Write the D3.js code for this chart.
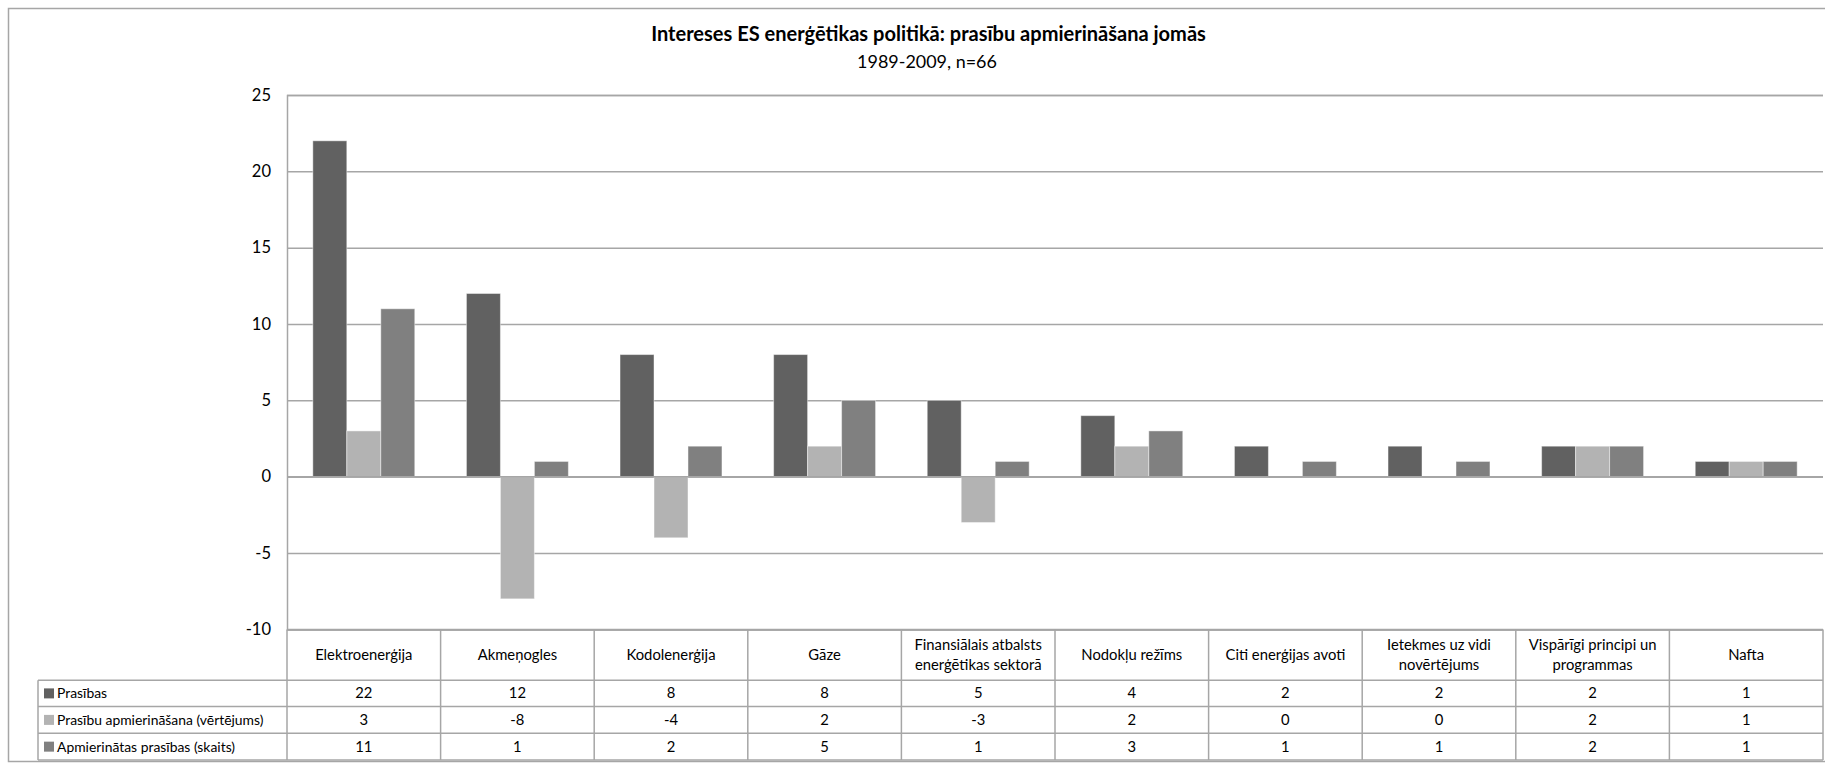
<!DOCTYPE html>
<html><head><meta charset="utf-8">
<script src="https://cdn.jsdelivr.net/npm/d3@7"></script>
<style>
html,body{margin:0;padding:0;background:#fff;}
svg{display:block;font-family:Lato,"Liberation Sans",sans-serif;}
</style></head>
<body>
<svg id="chart" width="1825" height="765"></svg>
<script>
const title = "Intereses ES enerģētikas politikā: prasību apmierināšana jomās";
const subtitle = "1989-2009, n=66";
const categories = ["Elektroenerģija","Akmeņogles","Kodolenerģija","Gāze","Finansiālais atbalsts\nenerģētikas sektorā","Nodokļu režīms","Citi enerģijas avoti","Ietekmes uz vidi\nnovērtējums","Vispārīgi principi un\nprogrammas","Nafta"];
const seriesNames = ["Prasības","Prasību apmierināšana (vērtējums)","Apmierinātas prasības (skaits)"];
const prasibas = [22,12,8,8,5,4,2,2,2,1];
const vertejums = [3,-8,-4,2,-3,2,0,0,2,1];
const skaits = [11,1,2,5,1,3,1,1,2,1];
const yTicks = [-10,-5,0,5,10,15,20,25];
const seriesColors = ["#616161","#b3b3b3","#808080"];
const seriesValues = [prasibas, vertejums, skaits];

const svg = d3.select("#chart");
const gridColor = "#a6a6a6";

svg.append("rect").attr("x",8.5).attr("y",8.5).attr("width",1840).attr("height",753)
  .attr("fill","none").attr("stroke","#a6a6a6").attr("stroke-width",1.5);

const plotL = 287, plotR = 1823, plotT = 95, plotB = 629.4;
const y = d3.scaleLinear().domain([-10,25]).range([plotB, plotT]);
const x0 = d3.scaleBand().domain(categories).range([plotL, plotR]).paddingInner(0).paddingOuter(0);
const x1 = d3.scaleBand().domain(seriesNames).range([0, x0.bandwidth()]).paddingInner(0).paddingOuter(0.76);

function fitText(sel, target){
  const n = sel.node(); const w = n.getComputedTextLength();
  const fs = parseFloat(sel.attr("font-size"));
  if (w > 0) sel.attr("font-size", (fs*target/w).toFixed(2));
}
const t1 = svg.append("text").attr("x",928.5).attr("y",41).attr("text-anchor","middle")
  .attr("font-size",17).attr("font-weight","bold").attr("fill","#000").text(title);
fitText(t1, 555);
const t2 = svg.append("text").attr("x",927).attr("y",68).attr("text-anchor","middle")
  .attr("font-size",16).attr("fill","#000").text(subtitle);
fitText(t2, 140);

const yAxis = d3.axisLeft(y).tickValues(yTicks).tickSize(-(plotR-plotL)).tickFormat(d=>String(d)).tickPadding(16);
const gy = svg.append("g").attr("transform",`translate(${plotL},0)`).call(yAxis);
gy.select(".domain").attr("stroke",gridColor).attr("stroke-width",1.5);
gy.selectAll(".tick line").attr("stroke",gridColor).attr("stroke-width",1.5);
gy.selectAll(".tick text").attr("font-size",16.5).attr("fill","#000").attr("font-family","Lato");

const gCat = svg.append("g").selectAll("g").data(categories).join("g")
  .attr("transform",d=>`translate(${x0(d)},0)`);
gCat.selectAll("rect").data((d,i)=>seriesNames.map((s,k)=>({s,k,v:seriesValues[k][i]})))
  .join("rect")
  .attr("x",d=>x1(d.s)).attr("width",x1.bandwidth())
  .attr("y",d=>y(Math.max(0,d.v))).attr("height",d=>Math.abs(y(d.v)-y(0)))
  .attr("fill",d=>seriesColors[d.k])
  .attr("stroke","#ffffff").attr("stroke-opacity",0.45).attr("stroke-width",1);

svg.append("line").attr("x1",plotL).attr("x2",plotR).attr("y1",y(0)).attr("y2",y(0))
  .attr("stroke",gridColor).attr("stroke-width",1.5);

const tableL = 38;
const rowY = [629.4, 680.3, 706.5, 733.3, 760];
const fsTable = 14.8;
const fsLegend = 13.9;
const tg = svg.append("g");
tg.append("line").attr("x1",plotL).attr("x2",plotR).attr("y1",rowY[0]).attr("y2",rowY[0]).attr("stroke",gridColor).attr("stroke-width",1.5);
for(let r=1;r<rowY.length;r++){
  tg.append("line").attr("x1",tableL).attr("x2",plotR).attr("y1",rowY[r]).attr("y2",rowY[r]).attr("stroke",gridColor).attr("stroke-width",1.5);
}
tg.append("line").attr("x1",tableL).attr("x2",tableL).attr("y1",rowY[1]).attr("y2",rowY[4]).attr("stroke",gridColor).attr("stroke-width",1.5);
categories.forEach(c=>{
  const xx = x0(c);
  tg.append("line").attr("x1",xx).attr("x2",xx).attr("y1",rowY[0]).attr("y2",rowY[4]).attr("stroke",gridColor).attr("stroke-width",1.5);
});
tg.append("line").attr("x1",plotR).attr("x2",plotR).attr("y1",rowY[0]).attr("y2",rowY[4]).attr("stroke",gridColor).attr("stroke-width",1.5);

categories.forEach(c=>{
  const lines = c.split("\n");
  const cx = x0(c) + x0.bandwidth()/2;
  const cy = (rowY[0]+rowY[1])/2;
  const lh = 20.5;
  const t = tg.append("text").attr("text-anchor","middle").attr("font-size",fsTable).attr("fill","#000");
  lines.forEach((ln,j)=>{
    t.append("tspan").attr("x",cx).attr("y", cy + (j-(lines.length-1)/2)*lh + 5).text(ln);
  });
});
seriesNames.forEach((s,k)=>{
  const cy = (rowY[k+1]+rowY[k+2])/2;
  tg.append("rect").attr("x",44).attr("y",cy-5).attr("width",10).attr("height",10).attr("fill",seriesColors[k]);
  tg.append("text").attr("x",57).attr("y",cy+5).attr("font-size",fsLegend).attr("fill","#000").text(s);
  categories.forEach((c,i)=>{
    tg.append("text").attr("x",x0(c)+x0.bandwidth()/2).attr("y",cy+5).attr("text-anchor","middle")
      .attr("font-size",fsTable).attr("fill","#000").text(seriesValues[k][i]);
  });
});
</script>
</body></html>
